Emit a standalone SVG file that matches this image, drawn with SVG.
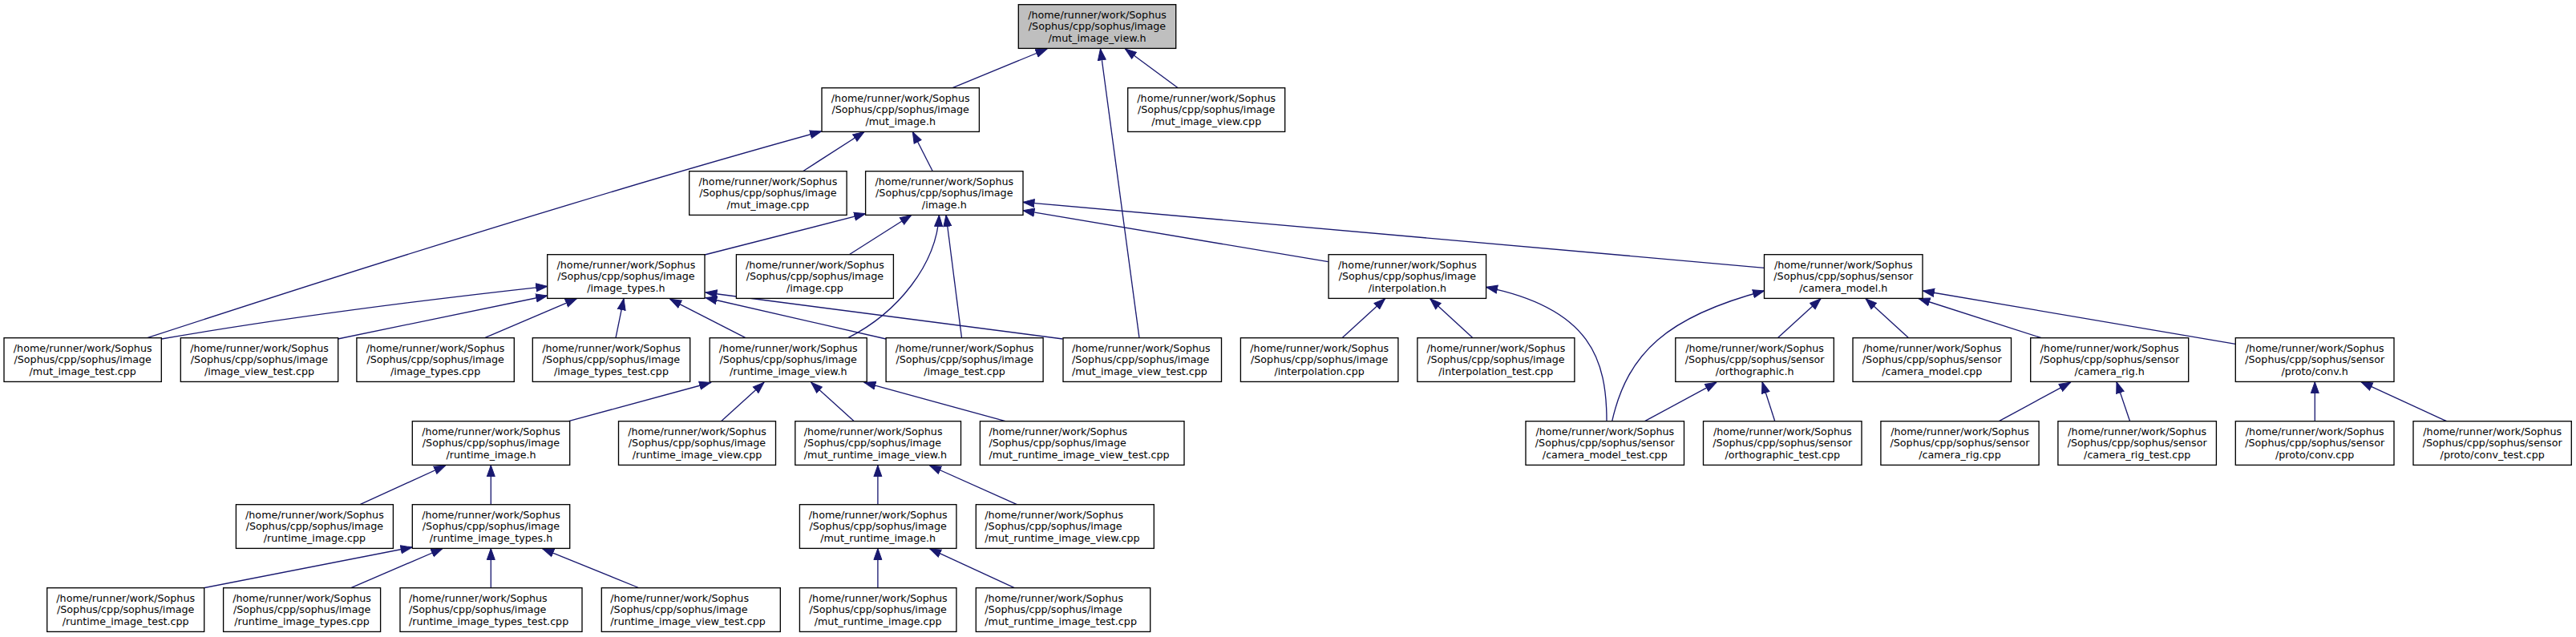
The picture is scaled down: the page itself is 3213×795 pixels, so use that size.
<svg xmlns="http://www.w3.org/2000/svg" width="3213" height="795" viewBox="0 0 3213 795">
<style>
.n rect{fill:#fff;stroke:#000;stroke-width:1.33}
.n.root rect{fill:#bfbfbf}
.n text{font-family:"DejaVu Sans","Liberation Sans",sans-serif;font-size:12.7px;fill:#000}
.n text.c{text-anchor:middle}
.n text.l{text-anchor:start}
#edges path{fill:none;stroke:#191970;stroke-width:1.33;marker-end:url(#ah)}
</style>
<defs>
<marker id="ah" markerUnits="userSpaceOnUse" markerWidth="16" markerHeight="12" viewBox="0 -6 15 12" refX="14" refY="0" orient="auto">
<path d="M0,-5 L14,0 L0,5 z" fill="#191970" stroke="#191970" stroke-width="1"/>
</marker>
</defs>
<rect width="3213" height="795" fill="#fff"/>
<g id="edges">
<path d="M1188,109.7 L1306,61"/>
<path d="M1421,421.7 L1372.5,61"/>
<path d="M1469.3,109.7 L1403.3,61"/>
<path d="M183.7,421.7 Q686.5,257.3 1024.5,164"/>
<path d="M1001.5,213.7 L1078,164.5"/>
<path d="M1163.3,213.7 L1138.3,164.5"/>
<path d="M879,318 L1079.6,266.7"/>
<path d="M1059.2,317.7 L1136.7,268.5"/>
<path d="M1057.7,421.7 C1120,390 1168,330 1171.4,268.5"/>
<path d="M1199.5,421.7 L1180,268.5"/>
<path d="M1656.6,326.7 L1276,262.7"/>
<path d="M2200.5,334.3 L1276,252.3"/>
<path d="M201.5,423 Q401,388.3 682.7,357.3"/>
<path d="M421.4,423 L682.7,369"/>
<path d="M604.6,421.7 L719.4,372.7"/>
<path d="M768,421.7 L778,372.7"/>
<path d="M930,421.7 L835.7,373.3"/>
<path d="M1105,423 L880,371.5"/>
<path d="M1325.5,423 L880,365"/>
<path d="M1674,421.7 L1727.6,372.7"/>
<path d="M1837,421.7 L1783.7,372.7"/>
<path d="M2004,525.7 C2004,450 1985,385 1853.6,358.3"/>
<path d="M2010.7,525.7 C2030,440 2080,395 2200.5,363"/>
<path d="M2217.3,421.7 L2271,372.7"/>
<path d="M2380.6,421.7 L2327,372.7"/>
<path d="M2546.2,421.7 L2393,372.5"/>
<path d="M2788.3,429.3 L2398.5,363"/>
<path d="M709.2,525.7 L886.5,477.5"/>
<path d="M899.5,525.7 L953,477.3"/>
<path d="M1065.3,525.7 L1011.7,477.3"/>
<path d="M1254,525.7 L1078,477.3"/>
<path d="M2051.5,525.7 L2140.8,477.3"/>
<path d="M2213.8,525.7 L2198,476.7"/>
<path d="M2493.3,525.7 L2582.5,477.3"/>
<path d="M2656.6,525.7 L2640,476.7"/>
<path d="M2887.3,525.7 L2887.3,476.7"/>
<path d="M3051.7,525.7 L2945,476.7"/>
<path d="M449,629.7 L555.5,581"/>
<path d="M612.3,629.7 L612.3,580.7"/>
<path d="M1094.9,629.7 L1094.9,580.7"/>
<path d="M1268.4,629.7 L1159.7,581"/>
<path d="M252.6,734 L514,683"/>
<path d="M437.8,733.7 L552,684.5"/>
<path d="M612.3,733.7 L612.3,684.5"/>
<path d="M797.7,734 L676.7,684.8"/>
<path d="M1094.9,733.7 L1094.9,684.5"/>
<path d="M1265.3,733.7 L1159.7,684.8"/>
</g>
<g id="n0" class="n root"><rect x="1270.3" y="5.7" width="196.4" height="54.7"/><text class="c" x="1368.5" y="22.5"><tspan x="1368.5">/home/runner/work/Sophus</tspan><tspan x="1368.5" dy="14.5">/Sophus/cpp/sophus/image</tspan><tspan x="1368.5" dy="14.5">/mut_image_view.h</tspan></text></g>
<g id="n1" class="n"><rect x="1025" y="109.7" width="196.4" height="54.7"/><text class="c" x="1123.2" y="126.5"><tspan x="1123.2">/home/runner/work/Sophus</tspan><tspan x="1123.2" dy="14.5">/Sophus/cpp/sophus/image</tspan><tspan x="1123.2" dy="14.5">/mut_image.h</tspan></text></g>
<g id="n2" class="n"><rect x="1406.7" y="109.7" width="196" height="54.7"/><text class="c" x="1504.7" y="126.5"><tspan x="1504.7">/home/runner/work/Sophus</tspan><tspan x="1504.7" dy="14.5">/Sophus/cpp/sophus/image</tspan><tspan x="1504.7" dy="14.5">/mut_image_view.cpp</tspan></text></g>
<g id="n3" class="n"><rect x="859.7" y="213.7" width="196.4" height="54.7"/><text class="c" x="957.9" y="230.5"><tspan x="957.9">/home/runner/work/Sophus</tspan><tspan x="957.9" dy="14.5">/Sophus/cpp/sophus/image</tspan><tspan x="957.9" dy="14.5">/mut_image.cpp</tspan></text></g>
<g id="n4" class="n"><rect x="1079.6" y="213.7" width="196.4" height="54.7"/><text class="c" x="1177.8" y="230.5"><tspan x="1177.8">/home/runner/work/Sophus</tspan><tspan x="1177.8" dy="14.5">/Sophus/cpp/sophus/image</tspan><tspan x="1177.8" dy="14.5">/image.h</tspan></text></g>
<g id="n5" class="n"><rect x="682.7" y="317.7" width="196.3" height="54.7"/><text class="c" x="780.9" y="334.5"><tspan x="780.9">/home/runner/work/Sophus</tspan><tspan x="780.9" dy="14.5">/Sophus/cpp/sophus/image</tspan><tspan x="780.9" dy="14.5">/image_types.h</tspan></text></g>
<g id="n6" class="n"><rect x="918.4" y="317.7" width="196" height="54.7"/><text class="c" x="1016.4" y="334.5"><tspan x="1016.4">/home/runner/work/Sophus</tspan><tspan x="1016.4" dy="14.5">/Sophus/cpp/sophus/image</tspan><tspan x="1016.4" dy="14.5">/image.cpp</tspan></text></g>
<g id="n7" class="n"><rect x="1657.1" y="317.7" width="196.5" height="54.7"/><text class="c" x="1755.4" y="334.5"><tspan x="1755.4">/home/runner/work/Sophus</tspan><tspan x="1755.4" dy="14.5">/Sophus/cpp/sophus/image</tspan><tspan x="1755.4" dy="14.5">/interpolation.h</tspan></text></g>
<g id="n8" class="n"><rect x="2200.5" y="317.7" width="197.5" height="54.7"/><text class="c" x="2299.3" y="334.5"><tspan x="2299.3">/home/runner/work/Sophus</tspan><tspan x="2299.3" dy="14.5">/Sophus/cpp/sophus/sensor</tspan><tspan x="2299.3" dy="14.5">/camera_model.h</tspan></text></g>
<g id="n9" class="n"><rect x="5" y="421.7" width="196.3" height="54.7"/><text class="c" x="103.2" y="438.5"><tspan x="103.2">/home/runner/work/Sophus</tspan><tspan x="103.2" dy="14.5">/Sophus/cpp/sophus/image</tspan><tspan x="103.2" dy="14.5">/mut_image_test.cpp</tspan></text></g>
<g id="n10" class="n"><rect x="225.3" y="421.7" width="196.4" height="54.7"/><text class="c" x="323.5" y="438.5"><tspan x="323.5">/home/runner/work/Sophus</tspan><tspan x="323.5" dy="14.5">/Sophus/cpp/sophus/image</tspan><tspan x="323.5" dy="14.5">/image_view_test.cpp</tspan></text></g>
<g id="n11" class="n"><rect x="444.9" y="421.7" width="196.4" height="54.7"/><text class="c" x="543.1" y="438.5"><tspan x="543.1">/home/runner/work/Sophus</tspan><tspan x="543.1" dy="14.5">/Sophus/cpp/sophus/image</tspan><tspan x="543.1" dy="14.5">/image_types.cpp</tspan></text></g>
<g id="n12" class="n"><rect x="664.3" y="421.7" width="196.4" height="54.7"/><text class="c" x="762.5" y="438.5"><tspan x="762.5">/home/runner/work/Sophus</tspan><tspan x="762.5" dy="14.5">/Sophus/cpp/sophus/image</tspan><tspan x="762.5" dy="14.5">/image_types_test.cpp</tspan></text></g>
<g id="n13" class="n"><rect x="885.2" y="421.7" width="196" height="54.7"/><text class="c" x="983.2" y="438.5"><tspan x="983.2">/home/runner/work/Sophus</tspan><tspan x="983.2" dy="14.5">/Sophus/cpp/sophus/image</tspan><tspan x="983.2" dy="14.5">/runtime_image_view.h</tspan></text></g>
<g id="n14" class="n"><rect x="1105.1" y="421.7" width="196" height="54.7"/><text class="c" x="1203.1" y="438.5"><tspan x="1203.1">/home/runner/work/Sophus</tspan><tspan x="1203.1" dy="14.5">/Sophus/cpp/sophus/image</tspan><tspan x="1203.1" dy="14.5">/image_test.cpp</tspan></text></g>
<g id="n15" class="n"><rect x="1326" y="421.7" width="197.5" height="54.7"/><text class="l" x="1337" y="438.5"><tspan x="1337">/home/runner/work/Sophus</tspan><tspan x="1337" dy="14.5">/Sophus/cpp/sophus/image</tspan><tspan x="1337" dy="14.5">/mut_image_view_test.cpp</tspan></text></g>
<g id="n16" class="n"><rect x="1547.4" y="421.7" width="196.5" height="54.7"/><text class="c" x="1645.7" y="438.5"><tspan x="1645.7">/home/runner/work/Sophus</tspan><tspan x="1645.7" dy="14.5">/Sophus/cpp/sophus/image</tspan><tspan x="1645.7" dy="14.5">/interpolation.cpp</tspan></text></g>
<g id="n17" class="n"><rect x="1767.9" y="421.7" width="196" height="54.7"/><text class="c" x="1865.9" y="438.5"><tspan x="1865.9">/home/runner/work/Sophus</tspan><tspan x="1865.9" dy="14.5">/Sophus/cpp/sophus/image</tspan><tspan x="1865.9" dy="14.5">/interpolation_test.cpp</tspan></text></g>
<g id="n18" class="n"><rect x="2089.8" y="421.7" width="197.5" height="54.7"/><text class="c" x="2188.6" y="438.5"><tspan x="2188.6">/home/runner/work/Sophus</tspan><tspan x="2188.6" dy="14.5">/Sophus/cpp/sophus/sensor</tspan><tspan x="2188.6" dy="14.5">/orthographic.h</tspan></text></g>
<g id="n19" class="n"><rect x="2311" y="421.7" width="197.5" height="54.7"/><text class="c" x="2409.8" y="438.5"><tspan x="2409.8">/home/runner/work/Sophus</tspan><tspan x="2409.8" dy="14.5">/Sophus/cpp/sophus/sensor</tspan><tspan x="2409.8" dy="14.5">/camera_model.cpp</tspan></text></g>
<g id="n20" class="n"><rect x="2532.7" y="421.7" width="197" height="54.7"/><text class="c" x="2631.2" y="438.5"><tspan x="2631.2">/home/runner/work/Sophus</tspan><tspan x="2631.2" dy="14.5">/Sophus/cpp/sophus/sensor</tspan><tspan x="2631.2" dy="14.5">/camera_rig.h</tspan></text></g>
<g id="n21" class="n"><rect x="2788.3" y="421.7" width="197.7" height="54.7"/><text class="c" x="2887.2" y="438.5"><tspan x="2887.2">/home/runner/work/Sophus</tspan><tspan x="2887.2" dy="14.5">/Sophus/cpp/sophus/sensor</tspan><tspan x="2887.2" dy="14.5">/proto/conv.h</tspan></text></g>
<g id="n22" class="n"><rect x="514.3" y="525.7" width="196.4" height="54.7"/><text class="c" x="612.5" y="542.5"><tspan x="612.5">/home/runner/work/Sophus</tspan><tspan x="612.5" dy="14.5">/Sophus/cpp/sophus/image</tspan><tspan x="612.5" dy="14.5">/runtime_image.h</tspan></text></g>
<g id="n23" class="n"><rect x="771.5" y="525.7" width="196" height="54.7"/><text class="c" x="869.5" y="542.5"><tspan x="869.5">/home/runner/work/Sophus</tspan><tspan x="869.5" dy="14.5">/Sophus/cpp/sophus/image</tspan><tspan x="869.5" dy="14.5">/runtime_image_view.cpp</tspan></text></g>
<g id="n24" class="n"><rect x="991.8" y="525.7" width="206.7" height="54.7"/><text class="l" x="1002.8" y="542.5"><tspan x="1002.8">/home/runner/work/Sophus</tspan><tspan x="1002.8" dy="14.5">/Sophus/cpp/sophus/image</tspan><tspan x="1002.8" dy="14.5">/mut_runtime_image_view.h</tspan></text></g>
<g id="n25" class="n"><rect x="1222.4" y="525.7" width="254.6" height="54.7"/><text class="l" x="1233.4" y="542.5"><tspan x="1233.4">/home/runner/work/Sophus</tspan><tspan x="1233.4" dy="14.5">/Sophus/cpp/sophus/image</tspan><tspan x="1233.4" dy="14.5">/mut_runtime_image_view_test.cpp</tspan></text></g>
<g id="n26" class="n"><rect x="1903" y="525.7" width="197.5" height="54.7"/><text class="c" x="2001.8" y="542.5"><tspan x="2001.8">/home/runner/work/Sophus</tspan><tspan x="2001.8" dy="14.5">/Sophus/cpp/sophus/sensor</tspan><tspan x="2001.8" dy="14.5">/camera_model_test.cpp</tspan></text></g>
<g id="n27" class="n"><rect x="2124.5" y="525.7" width="197.5" height="54.7"/><text class="c" x="2223.3" y="542.5"><tspan x="2223.3">/home/runner/work/Sophus</tspan><tspan x="2223.3" dy="14.5">/Sophus/cpp/sophus/sensor</tspan><tspan x="2223.3" dy="14.5">/orthographic_test.cpp</tspan></text></g>
<g id="n28" class="n"><rect x="2345.9" y="525.7" width="197.2" height="54.7"/><text class="c" x="2444.5" y="542.5"><tspan x="2444.5">/home/runner/work/Sophus</tspan><tspan x="2444.5" dy="14.5">/Sophus/cpp/sophus/sensor</tspan><tspan x="2444.5" dy="14.5">/camera_rig.cpp</tspan></text></g>
<g id="n29" class="n"><rect x="2566.9" y="525.7" width="197.5" height="54.7"/><text class="c" x="2665.7" y="542.5"><tspan x="2665.7">/home/runner/work/Sophus</tspan><tspan x="2665.7" dy="14.5">/Sophus/cpp/sophus/sensor</tspan><tspan x="2665.7" dy="14.5">/camera_rig_test.cpp</tspan></text></g>
<g id="n30" class="n"><rect x="2788.3" y="525.7" width="197.7" height="54.7"/><text class="c" x="2887.2" y="542.5"><tspan x="2887.2">/home/runner/work/Sophus</tspan><tspan x="2887.2" dy="14.5">/Sophus/cpp/sophus/sensor</tspan><tspan x="2887.2" dy="14.5">/proto/conv.cpp</tspan></text></g>
<g id="n31" class="n"><rect x="3010" y="525.7" width="197.3" height="54.7"/><text class="c" x="3108.7" y="542.5"><tspan x="3108.7">/home/runner/work/Sophus</tspan><tspan x="3108.7" dy="14.5">/Sophus/cpp/sophus/sensor</tspan><tspan x="3108.7" dy="14.5">/proto/conv_test.cpp</tspan></text></g>
<g id="n32" class="n"><rect x="294.4" y="629.7" width="196" height="54.7"/><text class="c" x="392.4" y="646.5"><tspan x="392.4">/home/runner/work/Sophus</tspan><tspan x="392.4" dy="14.5">/Sophus/cpp/sophus/image</tspan><tspan x="392.4" dy="14.5">/runtime_image.cpp</tspan></text></g>
<g id="n33" class="n"><rect x="514.3" y="629.7" width="196.4" height="54.7"/><text class="c" x="612.5" y="646.5"><tspan x="612.5">/home/runner/work/Sophus</tspan><tspan x="612.5" dy="14.5">/Sophus/cpp/sophus/image</tspan><tspan x="612.5" dy="14.5">/runtime_image_types.h</tspan></text></g>
<g id="n34" class="n"><rect x="997.4" y="629.7" width="195.5" height="54.7"/><text class="c" x="1095.2" y="646.5"><tspan x="1095.2">/home/runner/work/Sophus</tspan><tspan x="1095.2" dy="14.5">/Sophus/cpp/sophus/image</tspan><tspan x="1095.2" dy="14.5">/mut_runtime_image.h</tspan></text></g>
<g id="n35" class="n"><rect x="1217.3" y="629.7" width="222" height="54.7"/><text class="l" x="1228.3" y="646.5"><tspan x="1228.3">/home/runner/work/Sophus</tspan><tspan x="1228.3" dy="14.5">/Sophus/cpp/sophus/image</tspan><tspan x="1228.3" dy="14.5">/mut_runtime_image_view.cpp</tspan></text></g>
<g id="n36" class="n"><rect x="58.7" y="733.7" width="196" height="54.7"/><text class="c" x="156.7" y="750.5"><tspan x="156.7">/home/runner/work/Sophus</tspan><tspan x="156.7" dy="14.5">/Sophus/cpp/sophus/image</tspan><tspan x="156.7" dy="14.5">/runtime_image_test.cpp</tspan></text></g>
<g id="n37" class="n"><rect x="278.6" y="733.7" width="196" height="54.7"/><text class="c" x="376.6" y="750.5"><tspan x="376.6">/home/runner/work/Sophus</tspan><tspan x="376.6" dy="14.5">/Sophus/cpp/sophus/image</tspan><tspan x="376.6" dy="14.5">/runtime_image_types.cpp</tspan></text></g>
<g id="n38" class="n"><rect x="499" y="733.7" width="227" height="54.7"/><text class="l" x="510" y="750.5"><tspan x="510">/home/runner/work/Sophus</tspan><tspan x="510" dy="14.5">/Sophus/cpp/sophus/image</tspan><tspan x="510" dy="14.5">/runtime_image_types_test.cpp</tspan></text></g>
<g id="n39" class="n"><rect x="750.3" y="733.7" width="223" height="54.7"/><text class="l" x="761.3" y="750.5"><tspan x="761.3">/home/runner/work/Sophus</tspan><tspan x="761.3" dy="14.5">/Sophus/cpp/sophus/image</tspan><tspan x="761.3" dy="14.5">/runtime_image_view_test.cpp</tspan></text></g>
<g id="n40" class="n"><rect x="997.4" y="733.7" width="195.5" height="54.7"/><text class="c" x="1095.2" y="750.5"><tspan x="1095.2">/home/runner/work/Sophus</tspan><tspan x="1095.2" dy="14.5">/Sophus/cpp/sophus/image</tspan><tspan x="1095.2" dy="14.5">/mut_runtime_image.cpp</tspan></text></g>
<g id="n41" class="n"><rect x="1217.3" y="733.7" width="217.4" height="54.7"/><text class="l" x="1228.3" y="750.5"><tspan x="1228.3">/home/runner/work/Sophus</tspan><tspan x="1228.3" dy="14.5">/Sophus/cpp/sophus/image</tspan><tspan x="1228.3" dy="14.5">/mut_runtime_image_test.cpp</tspan></text></g>
</svg>
